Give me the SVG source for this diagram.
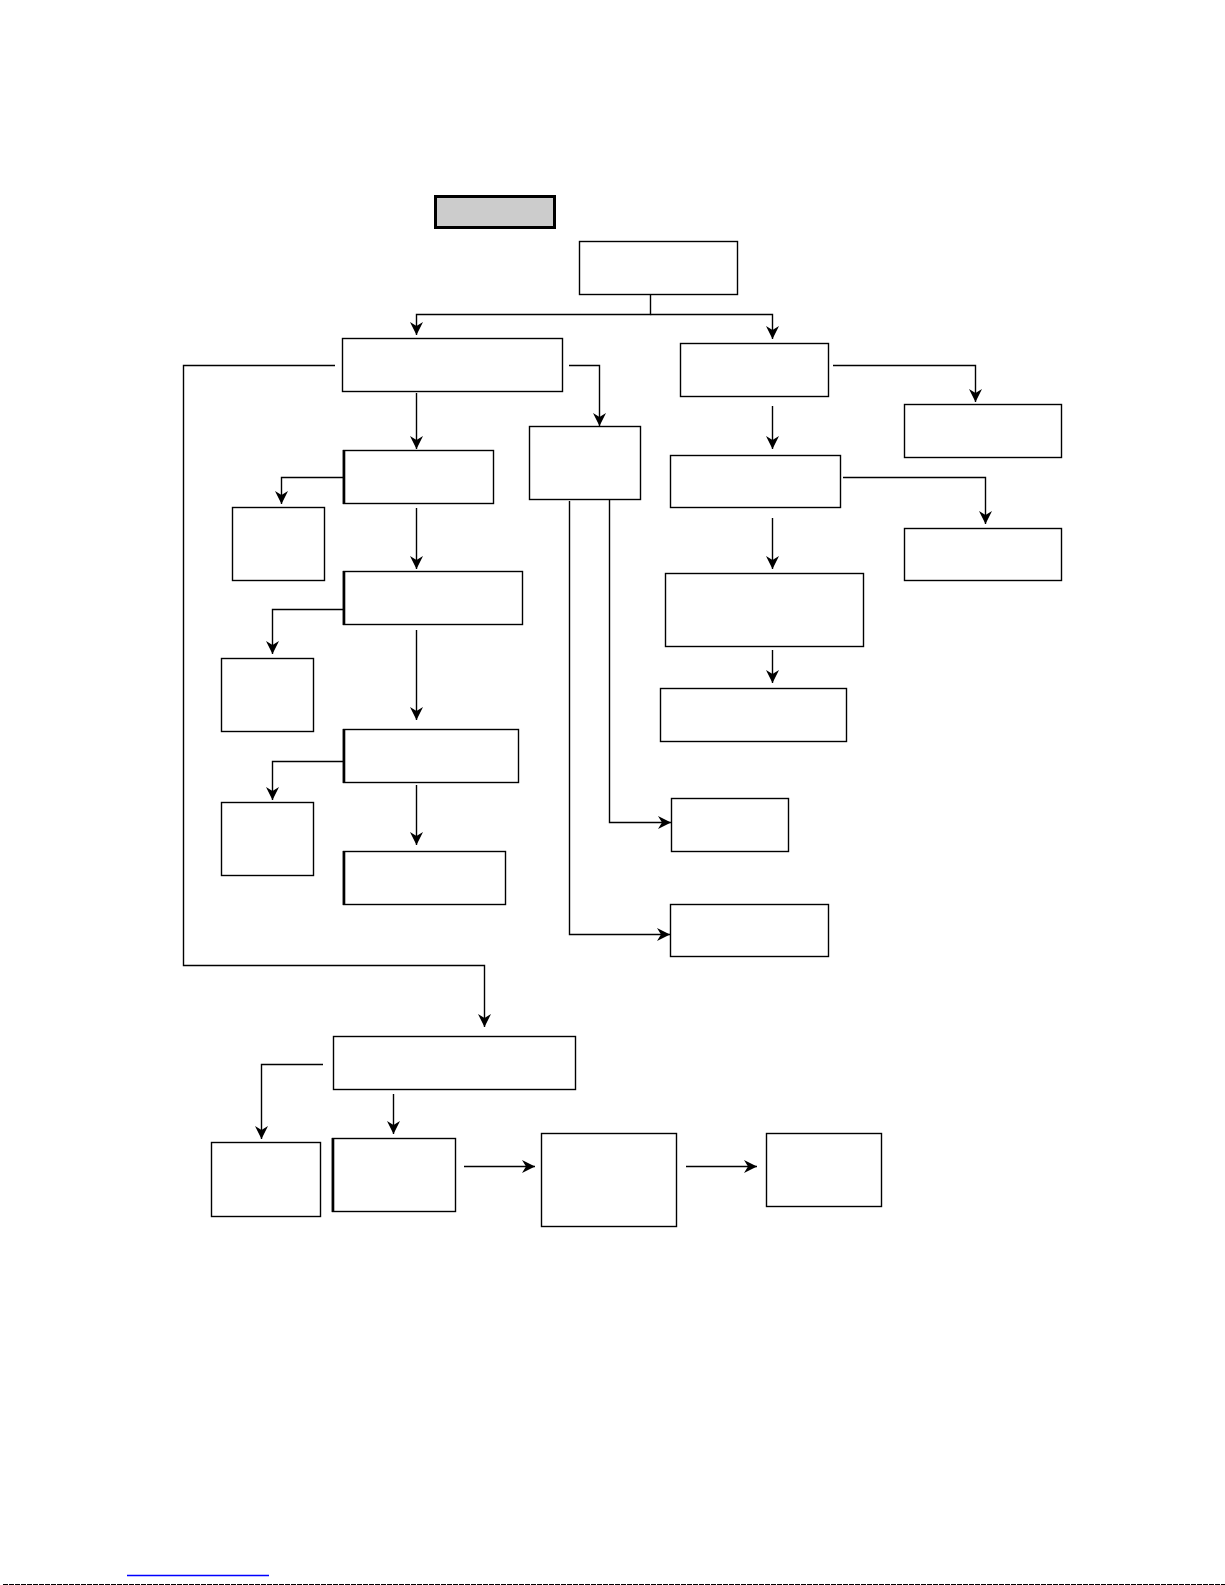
<svg xmlns="http://www.w3.org/2000/svg" width="1225" height="1585" viewBox="0 0 1225 1585">
<style>
.box{fill:#fff;stroke:#000;stroke-width:1.4}
.thick{stroke:#000;stroke-width:2.6}
.con{fill:none;stroke:#000;stroke-width:1.4}
</style>
<defs>
<marker id="ah" markerUnits="userSpaceOnUse" markerWidth="16" markerHeight="16" viewBox="-14 -8 16 16" refX="0" refY="0" orient="auto">
<path d="M0,0 L-13,-6.5 L-9,0 L-13,6.5 Z" fill="#000"/>
</marker>
</defs>
<rect width="1225" height="1585" fill="#fff"/>
<g id="nodes">
<g id="title"><rect x="435.5" y="196.5" width="119" height="31" fill="#ccc" stroke="#000" stroke-width="3"/></g>
<g id="top"><rect class="box" x="579.5" y="241.5" width="158" height="53"/></g>
<g id="A"><rect class="box" x="342.5" y="338.5" width="220" height="53"/></g>
<g id="B"><rect class="box" x="680.5" y="343.5" width="148" height="53"/></g>
<g id="C"><rect class="box" x="343.5" y="450.5" width="150" height="53"/><line class="thick" x1="344" y1="450" x2="344" y2="504"/></g>
<g id="D"><rect class="box" x="232.5" y="507.5" width="92" height="73"/></g>
<g id="E"><rect class="box" x="343.5" y="571.5" width="179" height="53"/><line class="thick" x1="344" y1="571" x2="344" y2="625"/></g>
<g id="F"><rect class="box" x="529.5" y="426.5" width="111" height="73"/></g>
<g id="G"><rect class="box" x="221.5" y="658.5" width="92" height="73"/></g>
<g id="H"><rect class="box" x="343.5" y="729.5" width="175" height="53"/><line class="thick" x1="344" y1="729" x2="344" y2="783"/></g>
<g id="I"><rect class="box" x="221.5" y="802.5" width="92" height="73"/></g>
<g id="J"><rect class="box" x="343.5" y="851.5" width="162" height="53"/><line class="thick" x1="344" y1="851" x2="344" y2="905"/></g>
<g id="K"><rect class="box" x="671.5" y="798.5" width="117" height="53"/></g>
<g id="L"><rect class="box" x="670.5" y="904.5" width="158" height="52"/></g>
<g id="M"><rect class="box" x="904.5" y="404.5" width="157" height="53"/></g>
<g id="N"><rect class="box" x="670.5" y="455.5" width="170" height="52"/></g>
<g id="O"><rect class="box" x="904.5" y="528.5" width="157" height="52"/></g>
<g id="P"><rect class="box" x="665.5" y="573.5" width="198" height="73"/></g>
<g id="Q"><rect class="box" x="660.5" y="688.5" width="186" height="53"/></g>
<g id="R"><rect class="box" x="333.5" y="1036.5" width="242" height="53"/></g>
<g id="S"><rect class="box" x="211.5" y="1142.5" width="109" height="74"/></g>
<g id="T"><rect class="box" x="332.5" y="1138.5" width="123" height="73"/><line class="thick" x1="333" y1="1138" x2="333" y2="1212"/></g>
<g id="U"><rect class="box" x="541.5" y="1133.5" width="135" height="93"/></g>
<g id="V"><rect class="box" x="766.5" y="1133.5" width="115" height="73"/></g>
</g>
<g id="connectors">
<path class="con" d="M650.5,294 V314.5 H416.5 V335" marker-end="url(#ah)"/>
<path class="con" d="M650.5,314.5 H772.5 V339" marker-end="url(#ah)"/>
<path class="con" d="M416.5,393 V449" marker-end="url(#ah)"/>
<path class="con" d="M569,365.5 H599.5 V426" marker-end="url(#ah)"/>
<path class="con" d="M335,365.5 H183.5 V965.5 H484.5 V1027" marker-end="url(#ah)"/>
<path class="con" d="M344,477.5 H281.5 V504" marker-end="url(#ah)"/>
<path class="con" d="M416.5,508 V569" marker-end="url(#ah)"/>
<path class="con" d="M344,609.5 H272.5 V654" marker-end="url(#ah)"/>
<path class="con" d="M416.5,630 V720" marker-end="url(#ah)"/>
<path class="con" d="M344,761.5 H272.5 V800" marker-end="url(#ah)"/>
<path class="con" d="M416.5,785 V845" marker-end="url(#ah)"/>
<path class="con" d="M609.5,499 V822.5 H671" marker-end="url(#ah)"/>
<path class="con" d="M569.5,501 V934.5 H670" marker-end="url(#ah)"/>
<path class="con" d="M833,365.5 H975.5 V402" marker-end="url(#ah)"/>
<path class="con" d="M772.5,406 V449" marker-end="url(#ah)"/>
<path class="con" d="M843,477.5 H985.5 V524" marker-end="url(#ah)"/>
<path class="con" d="M772.5,518 V569" marker-end="url(#ah)"/>
<path class="con" d="M772.5,650 V683" marker-end="url(#ah)"/>
<path class="con" d="M323,1064.5 H261.5 V1139" marker-end="url(#ah)"/>
<path class="con" d="M393.5,1094 V1134" marker-end="url(#ah)"/>
<path class="con" d="M464,1166.5 H535" marker-end="url(#ah)"/>
<path class="con" d="M686,1166.5 H757" marker-end="url(#ah)"/>
</g>
<line x1="127" y1="1575.5" x2="269" y2="1575.5" stroke="#0000ff" stroke-width="1.5"/>
<line x1="3" y1="1584.5" x2="1225" y2="1584.5" stroke="#000" stroke-width="1.2" stroke-dasharray="5 1"/>
</svg>
